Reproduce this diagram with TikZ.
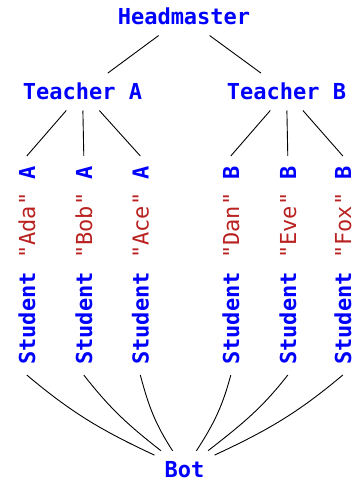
\documentclass[tikz,border=0pt]{standalone}
\usepackage{fontspec}
\usepackage{xcolor}
\usepackage{tikz}
\setmonofont{DejaVu Sans Mono}
\definecolor{strred}{HTML}{BA2121}
\definecolor{nameblue}{HTML}{0000FF}

\begin{document}
\begin{tikzpicture}[x=1pt,y=1pt,
  lbl/.style={font=\fontsize{22}{24}\selectfont\ttfamily\bfseries,text=nameblue,inner sep=10pt,anchor=base},
  kid/.style={lbl,rotate=90},
  edge/.style={draw=black,line width=0.9pt}]
\useasboundingbox (0,0) rectangle (356,481);
\node[lbl] (hm) at (184,456) {Headmaster};
\node[lbl] (ta) at (82.5,381) {Teacher A};
\node[lbl] (tb) at (286.5,381) {Teacher B};
\node[kid] (s1) at (35,215.5) {Student \textcolor{strred}{\mdseries"Ada"} A};
\node[kid] (s2) at (92,215.5) {Student \textcolor{strred}{\mdseries"Bob"} A};
\node[kid] (s3) at (148.5,215.5) {Student \textcolor{strred}{\mdseries"Ace"} A};
\node[kid] (s4) at (239,215.5) {Student \textcolor{strred}{\mdseries"Dan"} B};
\node[kid] (s5) at (296,215.5) {Student \textcolor{strred}{\mdseries"Eve"} B};
\node[kid] (s6) at (351,215.5) {Student \textcolor{strred}{\mdseries"Fox"} B};
\node[lbl] (bot) at (184.5,4) {Bot};
\draw[edge] (hm) -- (ta);
\draw[edge] (hm) -- (tb);
\draw[edge] (ta) -- (s1.east);
\draw[edge] (ta) -- (s2.east);
\draw[edge] (ta) -- (s3.east);
\draw[edge] (tb) -- (s4.east);
\draw[edge] (tb) -- (s5.east);
\draw[edge] (tb) -- (s6.east);
\draw[edge] (s1.west) to[out=-40,in=155] (bot);
\draw[edge] (s2.west) to[out=-52,in=142] (bot);
\draw[edge] (s3.west) to[out=-75,in=123] (bot);
\draw[edge] (s4.west) to[out=-105,in=57] (bot);
\draw[edge] (s5.west) to[out=-128,in=38] (bot);
\draw[edge] (s6.west) to[out=-140,in=25] (bot);
\end{tikzpicture}
\end{document}
